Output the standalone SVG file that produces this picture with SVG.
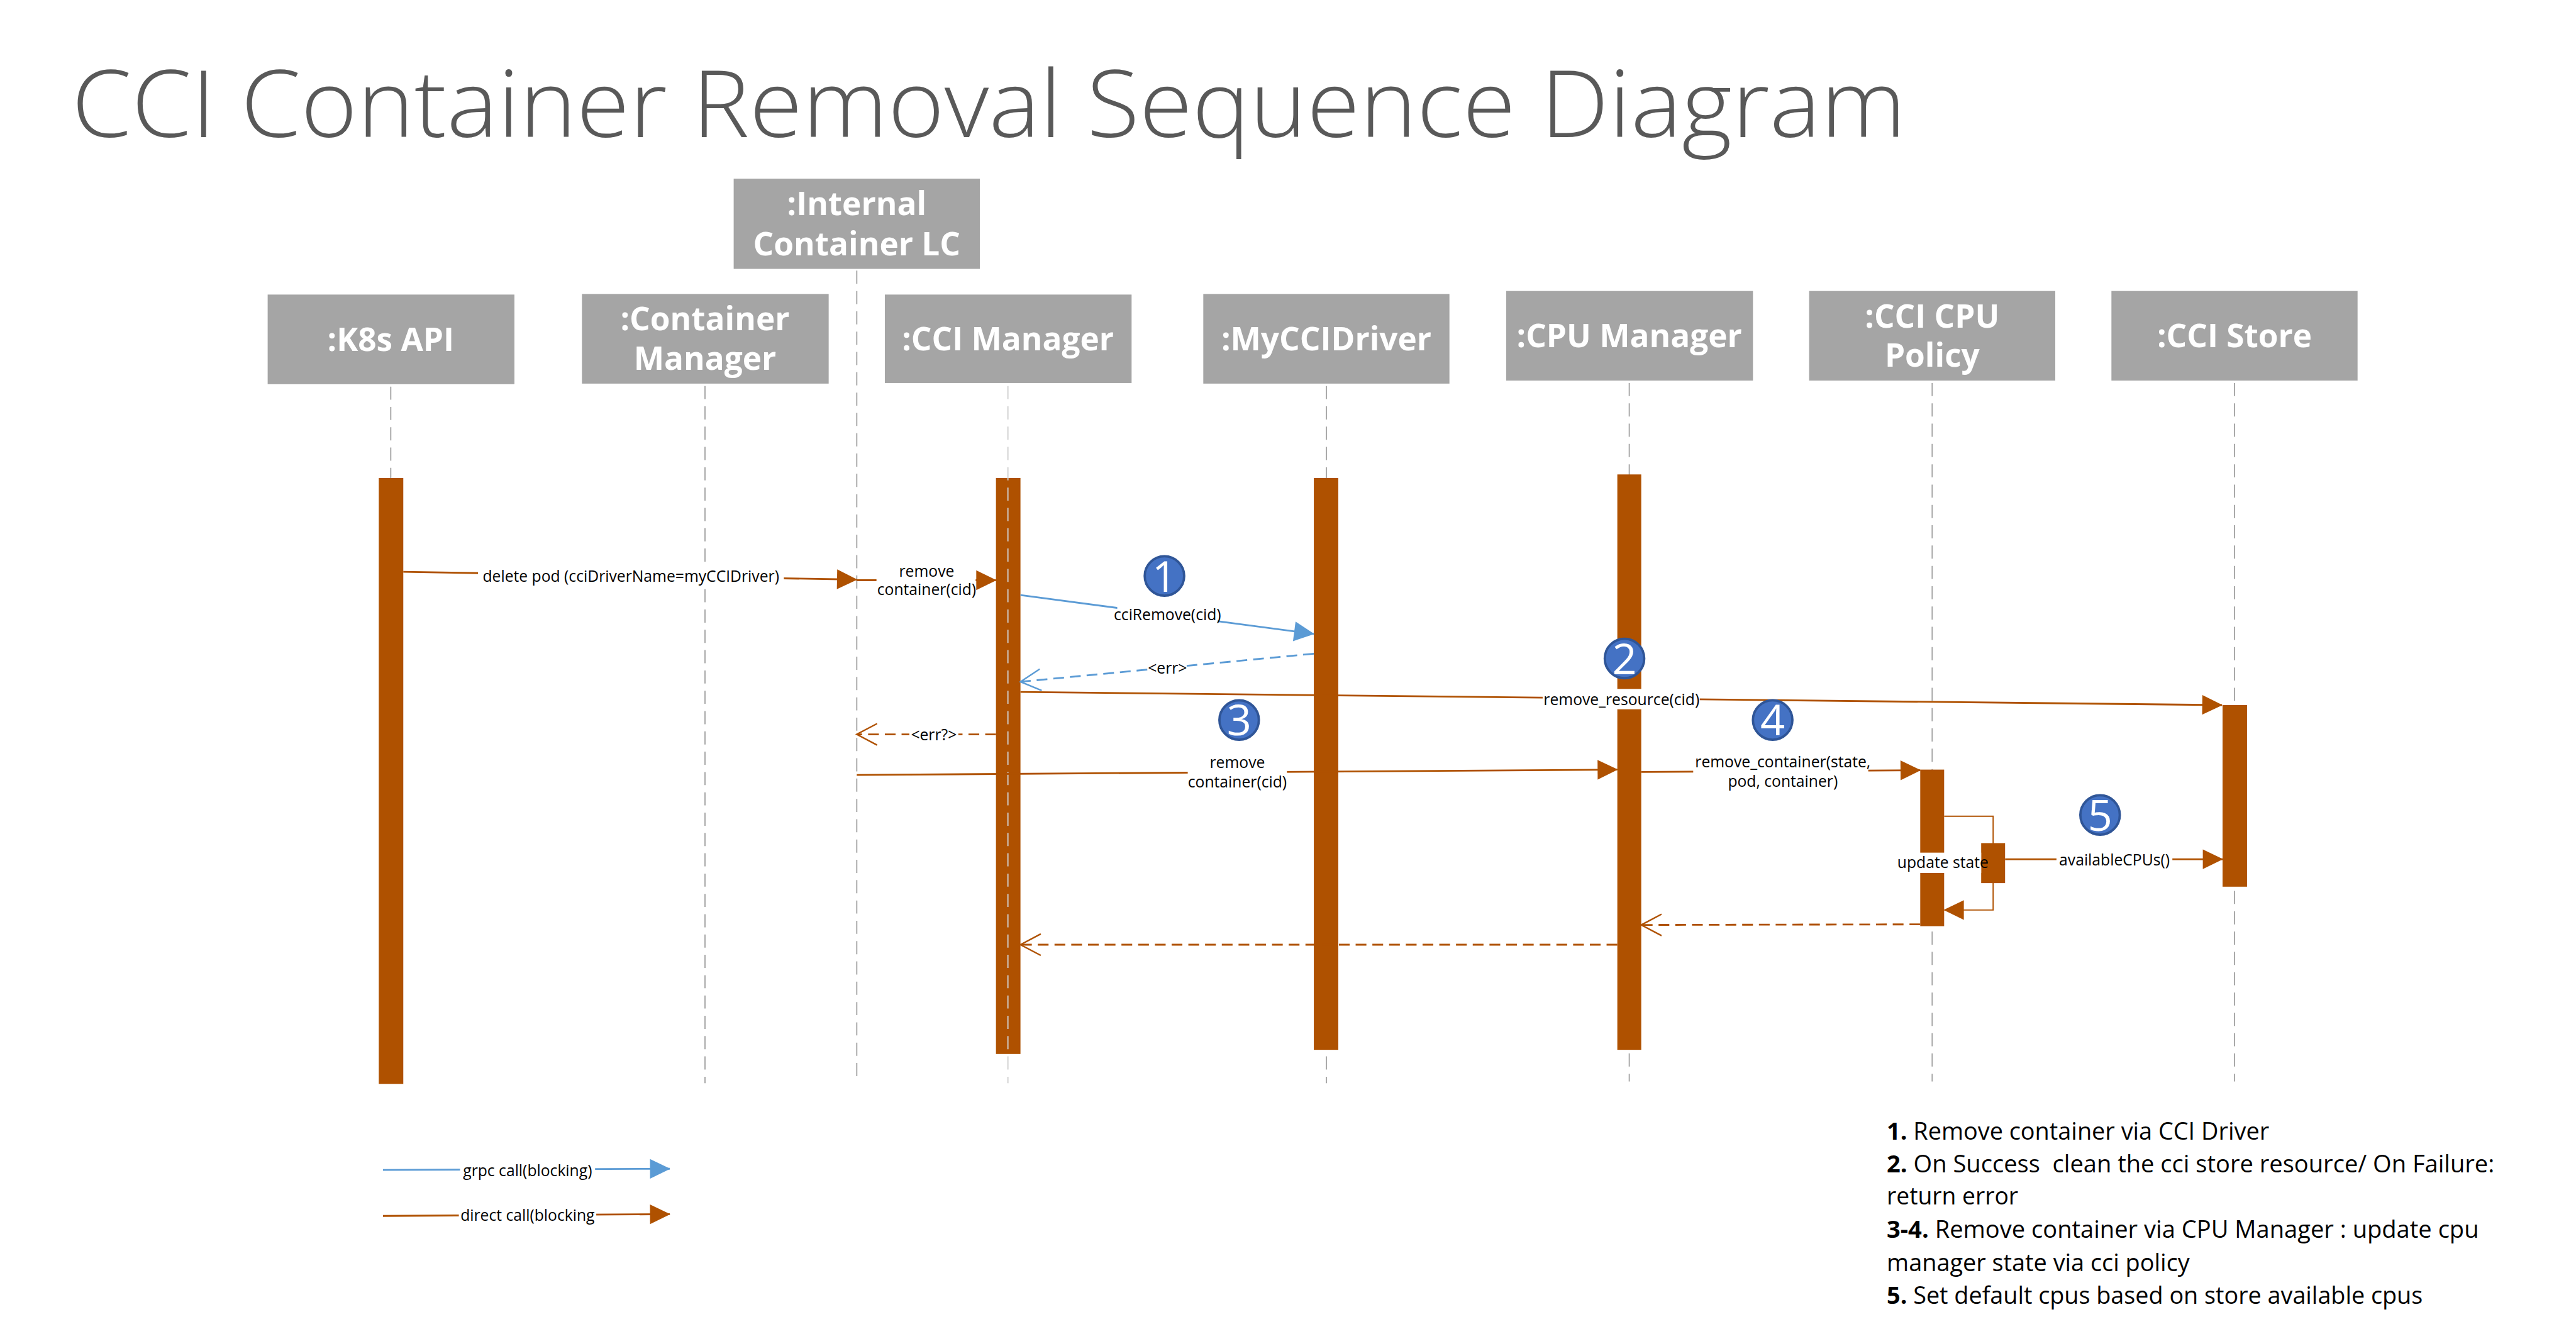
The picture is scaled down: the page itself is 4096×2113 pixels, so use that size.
<svg xmlns="http://www.w3.org/2000/svg" width="4096" height="2113" viewBox="0 0 4096 2113">
<style>
.title{font-family:"Open Sans","Liberation Sans",sans-serif;font-weight:300;font-size:156px;fill:#595959}
.hdr{font-family:"Open Sans","Liberation Sans",sans-serif;font-weight:700;font-size:54px;fill:#fff;text-anchor:middle}
.box{fill:#A5A5A5}
.life{stroke:#A6A6A6;stroke-width:2;stroke-dasharray:22 12;fill:none}
.lifeL{stroke:#D0D0D0;stroke-width:2;stroke-dasharray:22 12;fill:none}
.bar{fill:#AF5100}
.lbl{font-family:"Open Sans","Liberation Sans",sans-serif;font-size:26px;fill:#000;text-anchor:middle}
.bg{fill:#fff}
.call{stroke:#AF5100;stroke-width:3;fill:none}
.thin{stroke:#AF5100;stroke-width:2;fill:none}
.ret{stroke:#AF5100;stroke-width:3;fill:none;stroke-dasharray:18 10}
.grpc{stroke:#5B9BD5;stroke-width:3;fill:none}
.gret{stroke:#5B9BD5;stroke-width:3;fill:none;stroke-dasharray:18 10}
.num circle{fill:#4472C4;stroke:#2F5597;stroke-width:4}
.num text{font-family:"Open Sans","Liberation Sans",sans-serif;font-size:72px;fill:#fff;text-anchor:middle}
.note{font-family:"Open Sans","Liberation Sans",sans-serif;font-size:40px;fill:#000}
.note .b{font-weight:700}
</style>
<defs>
<marker id="aO" markerUnits="userSpaceOnUse" markerWidth="34" markerHeight="34" viewBox="0 0 34 34" refX="33" refY="16.5" orient="auto" overflow="visible"><path d="M0,0 L34,16.5 L0,33 z" fill="#AF5100"/></marker>
<marker id="aB" markerUnits="userSpaceOnUse" markerWidth="34" markerHeight="34" viewBox="0 0 34 34" refX="33" refY="16.5" orient="auto" overflow="visible"><path d="M0,0 L34,16.5 L0,33 z" fill="#5B9BD5"/></marker>
<marker id="oO" markerUnits="userSpaceOnUse" markerWidth="40" markerHeight="40" viewBox="-2 -2 40 40" refX="34" refY="18" orient="auto" overflow="visible"><path d="M0,0 L34,18 L0,36" fill="none" stroke="#AF5100" stroke-width="2.5"/></marker>
<marker id="oB" markerUnits="userSpaceOnUse" markerWidth="40" markerHeight="40" viewBox="-2 -2 40 40" refX="34" refY="18" orient="auto" overflow="visible"><path d="M0,0 L34,18 L0,36" fill="none" stroke="#5B9BD5" stroke-width="2.5"/></marker>
</defs>
<rect width="4096" height="2113" fill="#fff"/>
<g transform="scale(0.95)">
<text class="title" x="120" y="229" textLength="3070" lengthAdjust="spacingAndGlyphs">CCI Container Removal Sequence Diagram</text>

<g id="k8s-api">
<rect class="box" x="448" y="493" width="413" height="150"/>
<text class="hdr" x="654" y="587">:K8s API</text>
<line class="life" x1="654" y1="647" x2="654" y2="1813"/>
<rect class="bar" x="634" y="800" width="41" height="1014"/>
</g>
<g id="container-manager">
<rect class="box" x="974" y="492" width="413" height="150"/>
<text class="hdr" x="1180" y="553">:Container</text>
<text class="hdr" x="1180" y="619">Manager</text>
<line class="life" x1="1180" y1="646" x2="1180" y2="1813"/>
</g>
<g id="internal-container-lc">
<rect class="box" x="1228" y="299" width="412" height="151"/>
<text class="hdr" x="1434" y="360">:Internal</text>
<text class="hdr" x="1434" y="427">Container LC</text>
<line class="life" x1="1434" y1="453" x2="1434" y2="1813"/>
</g>
<g id="cci-manager">
<rect class="box" x="1481" y="493" width="413" height="148"/>
<text class="hdr" x="1687" y="586">:CCI Manager</text>
<rect class="bar" x="1667" y="800" width="41" height="964"/>
<line class="lifeL" x1="1687" y1="646" x2="1687" y2="1813"/>
</g>
<g id="mycci-driver">
<rect class="box" x="2014" y="492" width="412" height="150"/>
<text class="hdr" x="2220" y="586">:MyCCIDriver</text>
<line class="life" x1="2220" y1="646" x2="2220" y2="1813"/>
<rect class="bar" x="2199" y="800" width="41" height="957"/>
</g>
<g id="cpu-manager">
<rect class="box" x="2521" y="487" width="413" height="150"/>
<text class="hdr" x="2727" y="581">:CPU Manager</text>
<line class="life" x1="2727" y1="641" x2="2727" y2="1810"/>
<rect class="bar" x="2707" y="794" width="40" height="963"/>
</g>
<g id="cci-cpu-policy">
<rect class="box" x="3028" y="487" width="412" height="150"/>
<text class="hdr" x="3234" y="548">:CCI CPU</text>
<text class="hdr" x="3234" y="614">Policy</text>
<line class="life" x1="3234" y1="641" x2="3234" y2="1810"/>
<rect class="bar" x="3214" y="1288" width="40" height="262"/>
</g>
<g id="cci-store">
<rect class="box" x="3534" y="487" width="412" height="150"/>
<text class="hdr" x="3740" y="581">:CCI Store</text>
<line class="life" x1="3740" y1="641" x2="3740" y2="1810"/>
<rect class="bar" x="3720" y="1180" width="41" height="304"/>
</g>

<g id="connectors">
<line class="call" x1="675" y1="957" x2="1434" y2="970" marker-end="url(#aO)"/>
<rect class="bg" x="800" y="945" width="512" height="36"/>
<text class="lbl" x="1056" y="974">delete pod (cciDriverName=myCCIDriver)</text>

<line class="call" x1="1434" y1="971" x2="1667" y2="971" marker-end="url(#aO)"/>
<rect class="bg" x="1467" y="940" width="166" height="66"/>
<text class="lbl" x="1551" y="965">remove</text>
<text class="lbl" x="1551" y="996">container(cid)</text>

<line class="grpc" x1="1708" y1="996" x2="2199" y2="1061" marker-end="url(#aB)"/>
<rect class="bg" x="1870" y="1012" width="168" height="34"/>
<text class="lbl" x="1954" y="1038">cciRemove(cid)</text>

<line class="gret" x1="2199" y1="1094" x2="1708" y2="1141" marker-end="url(#oB)"/>
<rect class="bg" x="1922" y="1102" width="64" height="32"/>
<text class="lbl" x="1954" y="1127">&lt;err&gt;</text>

<line class="call" x1="1708" y1="1158" x2="3719" y2="1180" marker-end="url(#aO)"/>
<rect class="bg" x="2582" y="1153" width="263" height="34"/>
<text class="lbl" x="2714" y="1180">remove_resource(cid)</text>

<line class="ret" x1="1667" y1="1229" x2="1434" y2="1229" marker-end="url(#oO)"/>
<rect class="bg" x="1522" y="1214" width="82" height="34"/>
<text class="lbl" x="1563" y="1239">&lt;err?&gt;</text>

<line class="call" x1="1434" y1="1297" x2="2707" y2="1288" marker-end="url(#aO)"/>
<rect class="bg" x="1988" y="1260" width="166" height="66"/>
<text class="lbl" x="2071" y="1285">remove</text>
<text class="lbl" x="2071" y="1318">container(cid)</text>

<line class="call" x1="2747" y1="1292" x2="3214" y2="1289" marker-end="url(#aO)"/>
<rect class="bg" x="2834" y="1258" width="293" height="68"/>
<text class="lbl" x="2984" y="1284">remove_container(state,</text>
<text class="lbl" x="2984" y="1317">pod, container)</text>

<polyline class="thin" points="3254,1366 3336,1366 3336,1523 3254,1523" marker-end="url(#aO)"/>
<rect class="bar" x="3316" y="1411" width="40" height="67"/>
<rect class="bg" x="3184" y="1427" width="132" height="34"/>
<text class="lbl" x="3252" y="1453">update state</text>

<line class="call" x1="3356" y1="1438" x2="3720" y2="1438" marker-end="url(#aO)"/>
<rect class="bg" x="3442" y="1422" width="194" height="34"/>
<text class="lbl" x="3539" y="1448">availableCPUs()</text>

<line class="ret" x1="3214" y1="1547" x2="2747" y2="1548" marker-end="url(#oO)"/>
<line class="ret" x1="2707" y1="1581" x2="1708" y2="1581" marker-end="url(#oO)"/>
</g>

<g id="step-markers">
<g class="num"><circle cx="1949" cy="964" r="33"/><text x="1949" y="990">1</text></g>
<g class="num"><circle cx="2719" cy="1102" r="33"/><text x="2719" y="1128">2</text></g>
<g class="num"><circle cx="2074" cy="1205" r="33"/><text x="2074" y="1231">3</text></g>
<g class="num"><circle cx="2967" cy="1205" r="33"/><text x="2967" y="1231">4</text></g>
<g class="num"><circle cx="3515" cy="1364" r="33"/><text x="3515" y="1390">5</text></g>
</g>

<g id="legend">
<line class="grpc" x1="641" y1="1958" x2="1121" y2="1956" marker-end="url(#aB)"/>
<rect class="bg" x="770" y="1942" width="226" height="34"/>
<text class="lbl" x="883" y="1968">grpc call(blocking)</text>
<line class="call" x1="641" y1="2035" x2="1121" y2="2032" marker-end="url(#aO)"/>
<rect class="bg" x="768" y="2018" width="230" height="34"/>
<text class="lbl" x="883" y="2043">direct call(blocking</text>
</g>

<g id="notes">
<text class="note" x="3158" y="1907" textLength="640" lengthAdjust="spacingAndGlyphs"><tspan class="b">1.</tspan> Remove container via CCI Driver</text>
<text class="note" x="3158" y="1962" xml:space="preserve" textLength="1017" lengthAdjust="spacingAndGlyphs"><tspan class="b">2.</tspan> On Success  clean the cci store resource/ On Failure:</text>
<text class="note" x="3158" y="2016" textLength="220" lengthAdjust="spacingAndGlyphs">return error</text>
<text class="note" x="3158" y="2072" textLength="991" lengthAdjust="spacingAndGlyphs"><tspan class="b">3-4.</tspan> Remove container via CPU Manager : update cpu</text>
<text class="note" x="3158" y="2127" textLength="507" lengthAdjust="spacingAndGlyphs">manager state via cci policy</text>
<text class="note" x="3158" y="2182" textLength="897" lengthAdjust="spacingAndGlyphs"><tspan class="b">5.</tspan> Set default cpus based on store available cpus</text>
</g>
</g>
</svg>
